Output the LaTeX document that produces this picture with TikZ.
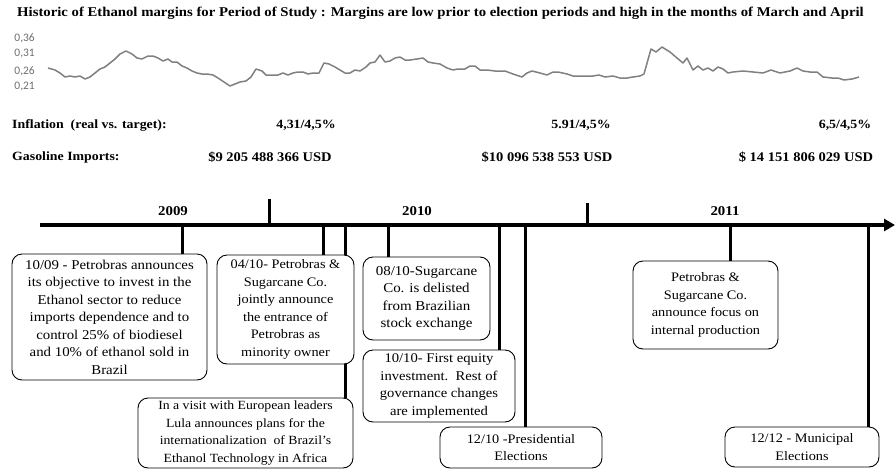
\documentclass[tikz,border=0pt]{standalone}
\usepackage{fontspec}
\setmainfont[FakeStretch=1.1]{Liberation Serif}
\newfontfamily\axisfont{Carlito}
\usetikzlibrary{arrows.meta}
\pgfdeclarelayer{links}
\pgfsetlayers{links,main}
\definecolor{chartgray}{RGB}{128,128,128}
\definecolor{labelgray}{RGB}{110,110,110}
\newcommand\evfont{\fontsize{13}{17.5}\selectfont}
\newcommand\boldrow{\fontsize{12.6}{14}\selectfont\bfseries}
\tikzset{
  event/.style={draw, line width=0.9pt, rounded corners=10pt, fill=white, align=center, font=\evfont, inner sep=0pt},
  link/.style={line width=3pt},
  yeartick/.style={line width=3pt},
  axisline/.style={line width=3.5pt, -{Triangle[length=11pt,width=12pt]}},
  chartline/.style={chartgray, line width=1.5pt, line join=round},
  axlabel/.style={font=\axisfont\fontsize{11.5}{12}\selectfont, text=labelgray, anchor=east, inner sep=0pt},
  rowtext/.style={font=\boldrow, inner sep=0pt},
  gastext/.style={font=\fontsize{13.2}{14}\selectfont\bfseries, inner sep=0pt},
  yeartext/.style={font=\fontsize{13.5}{15}\selectfont\bfseries, inner sep=0pt}
}
\begin{document}
\begin{tikzpicture}[x=1pt,y=-1pt]
\useasboundingbox (0,0) rectangle (895,472);
% title
\node[font=\fontsize{13.4}{15}\selectfont\bfseries, inner sep=0pt] (title) at (440.5,13) {Historic of Ethanol margins for Period of Study : Margins are low prior to election periods and high in the months of March and April};
% chart axis labels
\node[axlabel] (l36) at (35,38) {0,36};
\node[axlabel] (l31) at (35,54) {0,31};
\node[axlabel] (l26) at (35,71) {0,26};
\node[axlabel] (l21) at (35,87) {0,21};
% margin curve
\draw[chartline] plot coordinates {(48,68) (55,70) (60,73) (65,77) (70,76) (75,77) (80,76) (85,79) (90,77) (95,73) (100,69) (105,67) (110,63) (115,59) (120,54) (126,51) (132,54) (137,58) (142,59) (148,56) (153,56) (158,58) (163,61) (168,59) (172,62) (177,62) (182,66) (187,68) (192,71) (197,73) (202,74) (207,74) (213,75) (218,78) (224,82) (230,86) (235,84) (240,82) (246,81) (251,77) (256,69) (262,71) (266,75) (272,75) (278,75) (283,73) (288,75) (293,73) (298,72) (303,72) (308,74) (313,73) (319,73) (324,63) (329,64) (335,67) (340,70) (345,73) (350,73) (355,70) (360,71) (366,67) (370,63) (375,62) (380,55) (385,62) (390,61) (395,58) (400,57) (405,60) (410,60) (417,59) (423,58) (428,62) (433,63) (440,64) (447,68) (453,70) (458,69) (465,69) (470,66) (475,66) (480,70) (487,70) (495,71) (505,71) (513,74) (522,77) (527,73) (532,71) (540,73) (547,75) (553,72) (558,72) (567,74) (573,76) (580,76) (587,76) (593,76) (599,75) (605,77) (613,76) (620,78) (627,78) (633,77) (640,76) (644,74) (651,49) (656,52) (662,47) (670,52) (677,58) (683,63) (687,58) (693,70) (698,66) (703,70) (708,68) (713,71) (718,67) (723,69) (728,73) (733,72) (743,71) (753,72) (763,73) (771,70) (780,73) (790,71) (797,68) (803,71) (810,72) (817,72) (823,77) (832,78) (838,78) (844,80) (852,79) (859,77)};
% rows
\node[rowtext, anchor=west] (infl) at (12,125) {Inflation\ \ (real vs. target):};
\node[rowtext] (infl09) at (306,125) {4,31/4,5\%};
\node[rowtext] (infl10) at (581,125) {5.91/4,5\%};
\node[rowtext] (infl11) at (845,125) {6,5/4,5\%};
\node[rowtext, anchor=west] (gas) at (12,157) {Gasoline Imports:};
\node[gastext] (gas09) at (270,157) {\$9 205 488 366 USD};
\node[gastext] (gas10) at (547,157) {\$10 096 538 553 USD};
\node[gastext] (gas11) at (806,157) {\$ 14 151 806 029 USD};
% timeline
\coordinate (ax0) at (40,225);
\coordinate (ax1) at (895,225);
\draw[axisline] (ax0) -- (ax1);
\coordinate (y1b) at (269,225); \coordinate (y1t) at (269,199);
\coordinate (y2b) at (587,225); \coordinate (y2t) at (587,203);
\draw[yeartick] (y1b) -- (y1t);
\draw[yeartick] (y2b) -- (y2t);
\node[yeartext] (yr09) at (173,211) {2009};
\node[yeartext] (yr10) at (417,211) {2010};
\node[yeartext] (yr11) at (725,211) {2011};
% events
\node[event, font=\fontsize{13.5}{17.5}\selectfont, minimum width=195pt, minimum height=126pt] (b1) at (109.5,317) {10/09 - Petrobras announces\\its objective to invest in the\\Ethanol sector to reduce\\imports dependence and to\\control 25\% of biodiesel\\and 10\% of ethanol sold in\\Brazil};
\node[event, minimum width=137pt, minimum height=109pt] (b2) at (285.5,309.5) {04/10- Petrobras \&\\Sugarcane Co.\\jointly announce\\the entrance of\\Petrobras as\\minority owner};
\node[event, font=\fontsize{13.6}{17.5}\selectfont, minimum width=127pt, minimum height=83pt] (b3) at (426.5,298.5) {08/10-Sugarcane\\Co. is delisted\\from Brazilian\\stock exchange};
\node[event, font=\fontsize{12.5}{17.5}\selectfont, minimum width=215pt, minimum height=70pt] (b4) at (245.5,433) {In a visit with European leaders\\Lula announces plans for the\\internationalization\ \ of Brazil's\\Ethanol Technology in Africa};
\node[event, font=\fontsize{13.3}{17.5}\selectfont, minimum width=152pt, minimum height=72pt] (b5) at (439,386) {10/10- First equity\\investment.\ \ Rest of\\governance changes\\are implemented};
\node[event, minimum width=162pt, minimum height=41pt] (b6) at (521,447.5) {12/10 -Presidential\\Elections};
\node[event, minimum width=145pt, minimum height=88pt] (b7) at (705.5,305) {Petrobras \&\\Sugarcane Co.\\announce focus on\\internal production};
\node[event, minimum width=154pt, minimum height=40pt] (b8) at (802,447) {12/12 - Municipal\\Elections};
% connectors
\coordinate (t1) at (182,225);
\coordinate (t2) at (323,225);
\coordinate (t4) at (345,225);
\coordinate (t3) at (388,225);
\coordinate (t5) at (499,225);
\coordinate (t6) at (525,225);
\coordinate (t7) at (730,225);
\coordinate (t8) at (868,225);
\begin{pgfonlayer}{links}
\draw[link] (t1) -- (t1 |- b1.north);
\draw[link] (t2) -- (t2 |- b2.north);
\draw[link] (t4) -- (t4 |- b4.north);
\draw[link] (t3) -- (t3 |- b3.north);
\draw[link] (t5) -- (t5 |- b5.north);
\draw[link] (t6) -- (t6 |- b6.north);
\draw[link] (t7) -- (t7 |- b7.north);
\draw[link] (t8) -- (t8 |- b8.north);
\end{pgfonlayer}
\end{tikzpicture}
\end{document}
